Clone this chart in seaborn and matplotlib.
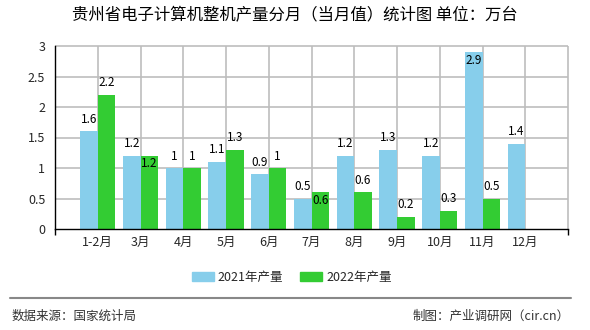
import numpy as np
import pandas as pd
import matplotlib
matplotlib.use("Agg")
import matplotlib.pyplot as plt
from matplotlib.lines import Line2D
import seaborn as sns

# ---- data ----
months = ['1-2月', '3月', '4月', '5月', '6月', '7月', '8月', '9月', '10月', '11月', '12月']
prod_2021 = [1.6, 1.2, 1.0, 1.1, 0.9, 0.5, 1.2, 1.3, 1.2, 2.9, 1.4]
prod_2022 = [2.2, 1.2, 1.0, 1.3, 1.0, 0.6, 0.6, 0.2, 0.3, 0.5, np.nan]
series_names = ['2021年产量', '2022年产量']
y_ticks = [0, 0.5, 1, 1.5, 2, 2.5, 3]
title = '贵州省电子计算机整机产量分月（当月值）统计图 单位：万台'
source_text = '数据来源：国家统计局'
credit_text = '制图：产业调研网（cir.cn）'

# labels that sit just below their bar top (collision avoidance in original)
below_labels = {(1, 1), (1, 5), (0, 9)}

colors = ['#87CEEB', '#33CC33']
grid_color = '#bdbdbd'

df = pd.DataFrame({
    'month': months * 2,
    'value': prod_2021 + prod_2022,
    'series': [series_names[0]] * len(months) + [series_names[1]] * len(months),
})

sns.set_theme(style='white')
plt.rcParams['font.family'] = ['Noto Sans CJK SC', 'DejaVu Sans']

fig = plt.figure(figsize=(5.9, 3.3), dpi=100)
ax = fig.add_axes([55 / 590, 1 - 229 / 330, (568 - 55) / 590, (229 - 46) / 330])

sns.barplot(data=df, x='month', y='value', hue='series', palette=colors,
            width=0.82, saturation=1, ax=ax, legend=False, order=months,
            hue_order=series_names, linewidth=0, edgecolor='none', zorder=3)

ax.set_xlim(-1, len(months))
ax.set_ylim(0, 3)
ax.set_yticks(y_ticks)
ax.set_yticklabels([f'{v:g}' for v in y_ticks], fontsize=9)
ax.set_xlabel('')
ax.set_ylabel('')
ax.tick_params(axis='x', which='major', length=0, labelsize=9, pad=5)
ax.tick_params(axis='y', which='major', length=4, width=1, color='black', labelsize=9, pad=3)

# grid
bounds = np.arange(-1, len(months) + 1)
ax.hlines(y_ticks[1:], bounds[0], bounds[-1], colors=grid_color, lw=1.2, zorder=1,
          clip_on=False)
ax.vlines(bounds[1:], 0, y_ticks[-1], colors=grid_color, lw=1.2, zorder=1,
          clip_on=False)
ax.set_xticks([bounds[0], bounds[-1]], minor=True)
ax.tick_params(axis='x', which='minor', length=4, width=1, color='black', bottom=True)

for s in ['top', 'right']:
    ax.spines[s].set_visible(False)
for s in ['left', 'bottom']:
    ax.spines[s].set_color('black')
    ax.spines[s].set_linewidth(1)
    ax.spines[s].set_zorder(4)

# value labels
for si, cont in enumerate(ax.containers):
    for bi, bar in enumerate(cont):
        h = bar.get_height()
        if h is None or np.isnan(h):
            continue
        xc = bar.get_x() + bar.get_width() / 2
        off = -8 if (si, bi) in below_labels else 12
        ax.annotate(f'{h:g}', (xc, h), xytext=(0, off * 0.72), textcoords='offset points',
                    ha='center', va='center', fontsize=8.5, color='black',
                    annotation_clip=False, zorder=5)

fig.text(295 / 590, 1 - 16 / 330, title, ha='center', va='center', fontsize=11.8, color='black')

handles = [plt.Rectangle((0, 0), 1, 1, color=c) for c in colors]
fig.legend(handles, series_names, loc='center', bbox_to_anchor=(291.5 / 590, 1 - 277 / 330),
           ncol=2, frameon=False, fontsize=9, handlelength=1.76, handleheight=0.7,
           handletextpad=0.35, columnspacing=1.3)

fig.add_artist(Line2D([10 / 590, 571 / 590], [1 - 298 / 330] * 2, transform=fig.transFigure,
                      color='#888888', lw=1.5))
fig.text(12 / 590, 1 - 316 / 330, source_text, ha='left', va='center', fontsize=9, color='#333333')
fig.text(570 / 590, 1 - 316 / 330, credit_text, ha='right', va='center', fontsize=9, color='#333333')

fig.savefig('out.png', dpi=100)
